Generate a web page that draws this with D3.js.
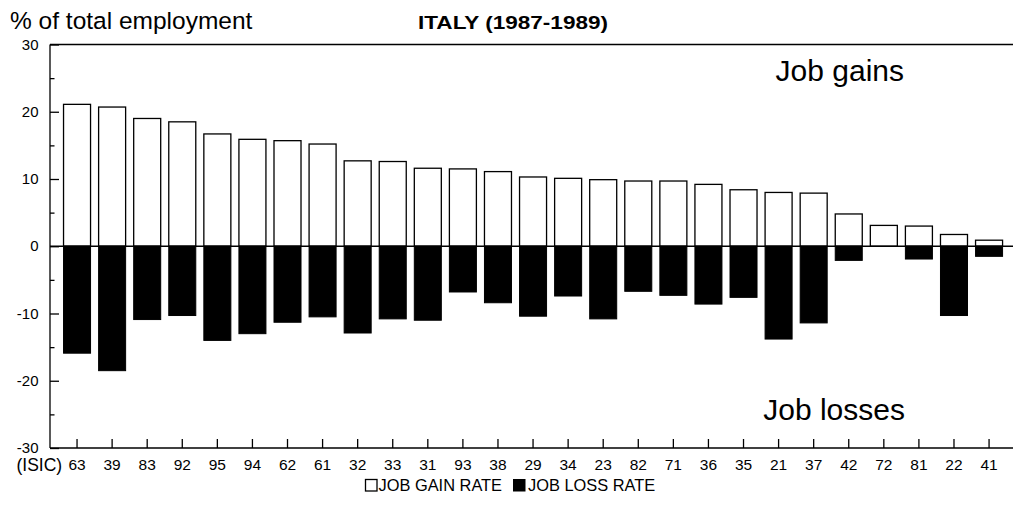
<!DOCTYPE html>
<html>
<head>
<meta charset="utf-8">
<script src="https://cdn.jsdelivr.net/npm/d3@7"></script>
<style>
  html, body { margin: 0; padding: 0; background: #fff; }
  svg { display: block; }
  text { font-family: "Liberation Sans", Arial, Helvetica, sans-serif; fill: #000; }
</style>
</head>
<body>
<svg id="chart" width="1013" height="507"></svg>
<script>
const categories = ["63","39","83","92","95","94","62","61","32","33","31","93","38","29","34","23","82","71","36","35","21","37","42","72","81","22","41"];
const gainRate = [21.1, 20.7, 19.0, 18.5, 16.7, 15.9, 15.7, 15.2, 12.7, 12.6, 11.6, 11.5, 11.1, 10.3, 10.1, 9.9, 9.7, 9.7, 9.2, 8.4, 8.0, 7.9, 4.8, 3.1, 3.0, 1.75, 0.9];
const lossRate = [-15.9, -18.5, -10.9, -10.3, -14.0, -13.0, -11.3, -10.5, -12.9, -10.8, -11.0, -6.8, -8.4, -10.4, -7.4, -10.8, -6.7, -7.3, -8.6, -7.6, -13.8, -11.4, -2.1, 0, -1.9, -10.3, -1.5];
const yMajorTicks = [-30, -20, -10, 0, 10, 20, 30];
const yMinorTicks = [-25, -15, -5, 5, 15, 25];
const legendLabels = ["JOB GAIN RATE", "JOB LOSS RATE"];

(function () {
const svg = d3.select("#chart");
const pl = 50, pr = 1013, pt = 44.5, pb = 448;

const x = d3.scaleBand().domain(categories).range([59.5, 1006.6]).paddingInner(0.23).paddingOuter(0.115);
const y = d3.scaleLinear().domain([-30, 30]).range([pb, pt]);

const data = categories.map((c, i) => ({ c, g: gainRate[i], l: lossRate[i] }));

// gain bars
svg.append("g").selectAll("rect").data(data).join("rect")
  .attr("x", d => x(d.c))
  .attr("width", x.bandwidth())
  .attr("y", d => y(d.g))
  .attr("height", d => y(0) - y(d.g))
  .attr("fill", "#fff").attr("stroke", "#000").attr("stroke-width", 1.3);

// loss bars
svg.append("g").selectAll("rect").data(data.filter(d => d.l < 0)).join("rect")
  .attr("x", d => x(d.c))
  .attr("width", x.bandwidth())
  .attr("y", y(0))
  .attr("height", d => y(d.l) - y(0))
  .attr("fill", "#000").attr("stroke", "#000").attr("stroke-width", 1);

// zero line
svg.append("line").attr("x1", pl).attr("x2", pr).attr("y1", y(0)).attr("y2", y(0))
  .attr("stroke", "#000").attr("stroke-width", 1.3);

// top border
svg.append("line").attr("x1", pl).attr("x2", pr).attr("y1", pt).attr("y2", pt)
  .attr("stroke", "#000").attr("stroke-width", 1.3);

// y axis
const yAxis = svg.append("g").attr("transform", `translate(${pl},0)`)
  .call(d3.axisRight(y).tickValues(yMajorTicks).tickSize(9).tickFormat(""));
yAxis.select(".domain").attr("d", `M0,${pt}V${pb}`).attr("stroke-width", 1.3);
yAxis.selectAll(".tick line").attr("stroke-width", 1.3);
const yMinor = svg.append("g").attr("transform", `translate(${pl},0)`)
  .call(d3.axisRight(y).tickValues(yMinorTicks).tickSize(4.5).tickFormat(""));
yMinor.select(".domain").remove();
yMinor.selectAll(".tick line").attr("stroke-width", 1.3);

svg.append("g").selectAll("text").data(yMajorTicks).join("text")
  .attr("x", 38.5).attr("y", d => y(d)).attr("dy", "0.34em")
  .attr("text-anchor", "end").style("font-size", "15px").text(d => d);

// x axis
const xAxis = svg.append("g").attr("transform", `translate(0,${pb})`)
  .call(d3.axisTop(x).tickSize(9).tickSizeOuter(0).tickFormat(""));
xAxis.select(".domain").attr("d", `M${pl},0H${pr}`).attr("stroke-width", 1.3);
xAxis.selectAll(".tick line").attr("stroke-width", 1.3);

svg.append("g").selectAll("text").data(categories).join("text")
  .attr("x", d => x(d) + x.bandwidth() / 2).attr("y", 469.5)
  .attr("text-anchor", "middle").style("font-size", "15.5px").text(d => d);

svg.append("text").attr("x", 16.5).attr("y", 470.5).style("font-size", "17.5px").text("(ISIC)");

// titles
svg.append("text").attr("x", 10).attr("y", 29).style("font-size", "24.5px").text("% of total employment");
svg.append("text").attr("x", 418).attr("y", 28.5).style("font-size", "17.5px").style("font-weight", "bold")
  .attr("textLength", 190).attr("lengthAdjust", "spacingAndGlyphs").text("ITALY (1987-1989)");

svg.append("text").attr("x", 904).attr("y", 81).attr("text-anchor", "end").style("font-size", "30px").text("Job gains");
svg.append("text").attr("x", 905).attr("y", 420).attr("text-anchor", "end").style("font-size", "30px").text("Job losses");

// legend
const lg = svg.append("g");
lg.append("rect").attr("x", 365.5).attr("y", 479.5).attr("width", 11.5).attr("height", 11.5)
  .attr("fill", "#fff").attr("stroke", "#000").attr("stroke-width", 1.3);
lg.append("text").attr("x", 378.5).attr("y", 491).style("font-size", "16.4px").text(legendLabels[0]);
lg.append("rect").attr("x", 513.5).attr("y", 479.5).attr("width", 11.5).attr("height", 11.5)
  .attr("fill", "#000").attr("stroke", "#000").attr("stroke-width", 1);
lg.append("text").attr("x", 528).attr("y", 491).style("font-size", "16.4px").text(legendLabels[1]);
})();
</script>
</body>
</html>
